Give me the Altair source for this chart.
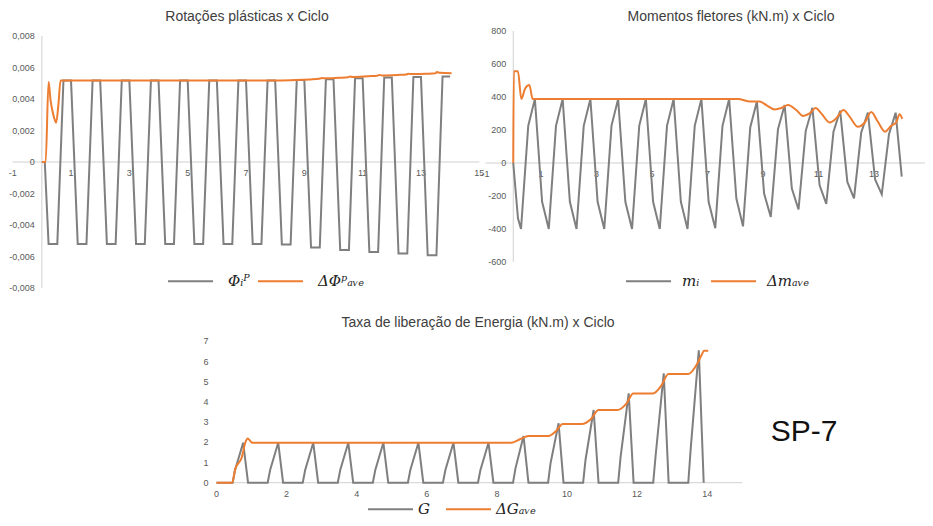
import altair as alt
import pandas as pd

GRAY = "#7f7f7f"
ORANGE = "#ed7d31"
AXIS = "#d0d0d0"
TICK = "#595959"
SANS = "Liberation Sans"
MATH = "DejaVu Serif"

# ---------------- Panel 1: Rotações plásticas ----------------
phi_names = ["Φᵢᴾ", "ΔΦᵖₐᵥₑ"]
phi_start_x = [0, 0.1]
phi_start_y = [0, 0]
phi_phase = [0.23, 0.53, 0.74, 1.0]
phi_trough = [-0.0052, -0.0052, -0.0052, -0.0052, -0.0052, -0.0052, -0.0052, -0.0052,
              -0.00524, -0.00543, -0.00558, -0.00571, -0.00581, -0.00592]
phi_peak = [0.00518, 0.00518, 0.00518, 0.00518, 0.00518, 0.00518, 0.00518, 0.00518,
            0.0052, 0.00526, 0.00531, 0.00537, 0.00539, 0.00543]
phi_ave_x = [0, 0.13, 0.23, 0.30, 0.38, 0.46, 0.49, 0.57, 0.64, 8.2, 8.7, 9.2, 9.5, 9.6, 9.7,
             10.2, 10.5, 10.57, 10.65, 11.2, 11.5, 11.57, 11.65, 12.2, 12.5, 12.56, 12.65,
             13.2, 13.5, 13.54, 13.65, 14.05]
phi_ave_y = [0, 0, 0.0051, 0.0039, 0.0031, 0.0026, 0.0025, 0.0037, 0.00518, 0.00518, 0.0052,
             0.00524, 0.00528, 0.00533, 0.00531, 0.00535, 0.00538, 0.00543, 0.0054, 0.00545,
             0.00548, 0.00553, 0.0055, 0.00553, 0.00556, 0.00561, 0.00558, 0.0056, 0.00563,
             0.00571, 0.00566, 0.00564]
phi_xticks = [-1, 1, 3, 5, 7, 9, 11, 13, 15]
phi_xlabels = ["-1", "1", "3", "5", "7", "9", "11", "13", "15"]
phi_yticks = [-0.008, -0.006, -0.004, -0.002, 0, 0.002, 0.004, 0.006, 0.008]
phi_ylabels = ["-0,008", "-0,006", "-0,004", "-0,002", "0", "0,002", "0,004", "0,006", "0,008"]

# ---------------- Panel 2: Momentos fletores ----------------
m_names = ["mᵢ", "Δmₐᵥₑ"]
m_start_x = [0, 0.17]
m_start_y = [0, -335]
m_phase = [0.04, 0.28, 0.54, 0.78]
m_fall = [None, -235, -235, -235, -235, -235, -235, -235, -215, -185, -155, -135, -115, -100]
m_trough = [-400, -400, -400, -400, -400, -400, -400, -395, -384, -327, -282, -248, -214, -190]
m_rise = [225, 225, 225, 225, 225, 225, 225, 225, 215, 205, 195, 190, 185, 175]
m_peak = [388, 388, 388, 388, 388, 388, 388, 388, 372, 351, 335, 317, 305, 305]
m_end_x = [14.0]
m_end_y = [-83]
m_ave_x = [0, 0.02, 0.17, 0.29, 0.43, 0.58, 0.7, 8.1, 8.53, 8.88, 9.12, 9.42, 9.66, 9.9, 10.2,
           10.44, 10.68, 10.9, 11.1, 11.4, 11.64, 11.9, 12.12, 12.42, 12.66, 12.9, 13.14, 13.4,
           13.62, 13.8, 13.92, 14.02]
m_ave_y = [0, 556, 556, 388, 452, 472, 388, 388, 372, 372, 351, 325, 333, 351, 321, 285, 301,
           333, 301, 246, 271, 321, 281, 220, 244, 309, 250, 190, 226, 246, 295, 267]
m_xticks = [-1, 1, 3, 5, 7, 9, 11, 13, 15]
m_xlabels = ["-1", "1", "3", "5", "7", "9", "11", "13", "15"]
m_yticks = [-600, -400, -200, 0, 200, 400, 600, 800]
m_ylabels = ["-600", "-400", "-200", "0", "200", "400", "600", "800"]

# ---------------- Panel 3: Taxa de liberação de Energia ----------------
g_names = ["G", "ΔGₐᵥₑ"]
g_start_x = [0]
g_start_y = [0]
g_phase = [0.46, 0.53, 0.76, 0.9]
g_base = [0, 0, 0, 0, 0, 0, 0, 0, 0, 0, 0, 0, 0, 0]
g_kink = [0.63, 0.63, 0.63, 0.63, 0.63, 0.63, 0.63, 0.63, 0.71, 0.96, 1.15, 1.29, 1.37, 1.7]
g_peak = [1.98, 1.98, 1.98, 1.98, 1.98, 1.98, 1.98, 1.98, 2.31, 2.94, 3.6, 4.42, 5.41, 6.55]
g_ave_x = [0, 0.45, 0.53, 0.72, 0.83, 0.89, 0.96, 1.02, 8.42, 8.66, 8.9, 9.47, 9.69, 9.88,
           10.42, 10.7, 10.9, 11.44, 11.7, 11.89, 12.45, 12.7, 12.89, 13.46, 13.72, 13.84,
           13.91, 14.03]
g_ave_y = [0, 0, 0.66, 1.25, 2.03, 2.19, 2.08, 1.98, 1.98, 2.15, 2.31, 2.31, 2.56, 2.9, 2.9,
           3.18, 3.6, 3.6, 3.93, 4.42, 4.42, 4.83, 5.38, 5.38, 5.9, 6.32, 6.53, 6.53]
g_xticks = [0, 2, 4, 6, 8, 10, 12, 14]
g_xlabels = ["0", "2", "4", "6", "8", "10", "12", "14"]
g_yticks = [0, 1, 2, 3, 4, 5, 6, 7]
g_ylabels = ["0", "1", "2", "3", "4", "5", "6", "7"]


def cycle_points(start_x, start_y, phase, levels, end_x=(), end_y=()):
    xs, ys = list(start_x), list(start_y)
    for k in range(len(levels[0])):
        for off, lev in zip(phase, levels):
            if lev[k] is None:
                continue
            xs.append(k + off)
            ys.append(lev[k])
    xs += list(end_x)
    ys += list(end_y)
    return xs, ys


def make_panel(gx, gy, avx, avy, names, xdom, xrng, ydom, yrng, xticks, xlabels,
               yticks, ylabels, ydx, vaxis, title, tpos, lpos, loff, lpad):
    X = alt.X("x:Q", scale=alt.Scale(domain=xdom, range=xrng, nice=False, zero=False), axis=None)
    Y = alt.Y("y:Q", scale=alt.Scale(domain=ydom, range=yrng, nice=False, zero=False), axis=None)
    color = alt.Color(
        "serie:N",
        scale=alt.Scale(domain=names, range=[GRAY, ORANGE]),
        legend=alt.Legend(orient="none", legendX=lpos[0], legendY=lpos[1], direction="horizontal",
                          title=None, symbolType="stroke", symbolSize=2025, symbolStrokeWidth=2,
                          labelFont=MATH, labelFontStyle="italic", labelFontSize=15,
                          labelColor="#222222", labelOffset=loff, columnPadding=lpad, padding=0),
    )
    layers = []
    hl = alt.Chart(pd.DataFrame({"x": [xdom[0]], "x2": [xdom[1]], "y": [0]})).mark_rule(
        color=AXIS, strokeWidth=1).encode(x=X, x2="x2:Q", y=Y)
    layers.append(hl)
    if vaxis:
        vl = alt.Chart(pd.DataFrame({"x": [0], "y": [ydom[0]], "y2": [ydom[1]]})).mark_rule(
            color=AXIS, strokeWidth=1).encode(x=X, y=Y, y2="y2:Q")
        layers.append(vl)
    xt = alt.Chart(pd.DataFrame({"x": xticks, "y": [0] * len(xticks), "t": xlabels})).mark_text(
        dy=11, fontSize=9, font=SANS, color=TICK, baseline="middle", align="center"
    ).encode(x=X, y=Y, text="t:N")
    yt = alt.Chart(pd.DataFrame({"x": [0] * len(yticks), "y": yticks, "t": ylabels})).mark_text(
        dx=ydx, fontSize=9, font=SANS, color=TICK, baseline="middle", align="right"
    ).encode(x=X, y=Y, text="t:N")
    layers += [xt, yt]
    dg = pd.DataFrame({"x": gx, "y": gy, "serie": names[0], "i": list(range(len(gx)))})
    da = pd.DataFrame({"x": avx, "y": avy, "serie": names[1], "i": list(range(len(avx)))})
    gl = alt.Chart(dg).mark_line(strokeWidth=2, interpolate="linear").encode(
        x=X, y=Y, color=color, order="i:Q")
    al = alt.Chart(da).mark_line(strokeWidth=2, interpolate="monotone").encode(
        x=X, y=Y, color=color, order="i:Q")
    layers += [gl, al]
    tt = alt.Chart(pd.DataFrame({"t": [title]})).mark_text(
        fontSize=14, font=SANS, color="#404040", baseline="middle", align="center"
    ).encode(x=alt.value(tpos[0]), y=alt.value(tpos[1]), text="t:N")
    layers.append(tt)
    return alt.layer(*layers)


phi_gx, phi_gy = cycle_points(phi_start_x, phi_start_y, phi_phase,
                              [phi_trough, phi_trough, phi_peak, phi_peak])
m_gx, m_gy = cycle_points(m_start_x, m_start_y, m_phase,
                          [m_fall, m_trough, m_rise, m_peak], m_end_x, m_end_y)
g_gx, g_gy = cycle_points(g_start_x, g_start_y, g_phase,
                          [g_base, g_kink, g_peak, g_base])

p1 = make_panel(phi_gx, phi_gy, phi_ave_x, phi_ave_y, phi_names,
                [-1, 15], [4.7, 471.3], [-0.008, 0.008], [280, 28],
                phi_xticks, phi_xlabels, phi_yticks, phi_ylabels, -7, True,
                "Rotações plásticas x Ciclo", (239, 9), (159, 249.5), 14, 4)
p2 = make_panel(m_gx, m_gy, m_ave_x, m_ave_y, m_names,
                [-1, 15], [477.5, 921.5], [-600, 800], [254, 23],
                m_xticks, m_xlabels, m_yticks, m_ylabels, -7, True,
                "Momentos fletores (kN.m) x Ciclo", (723, 9), (617, 249.5), 10, 7)
p3 = make_panel(g_gx, g_gy, g_ave_x, g_ave_y, g_names,
                [0, 15], [208.5, 734.25], [0, 7], [474.7, 333.3],
                g_xticks, g_xlabels, g_yticks, g_ylabels, -8, False,
                "Taxa de liberação de Energia (kN.m) x Ciclo", (470, 315), (359, 477.5), 4, 12)

sp7 = alt.Chart(pd.DataFrame({"t": ["SP-7"]})).mark_text(
    fontSize=30, font=SANS, color="#111111", baseline="middle", align="center"
).encode(x=alt.value(796), y=alt.value(424), text="t:N")

chart = alt.layer(p1, p2, p3, sp7).resolve_scale(
    x="independent", y="independent", color="independent"
).resolve_legend(color="independent").properties(
    width=917, height=510, autosize=alt.AutoSizeParams(type="none"), padding=0
).configure_view(stroke=None)

chart.save("out.html", embed_options={"renderer": "svg", "actions": False})
